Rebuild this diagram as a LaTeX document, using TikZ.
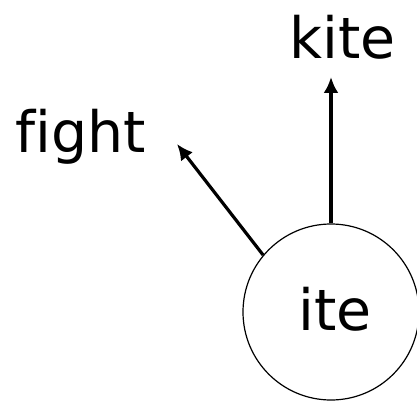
\documentclass[tikz,border=0pt]{standalone}
\usepackage{fontspec}
\setmainfont[Ligatures=NoCommon]{DejaVu Sans}
\usetikzlibrary{arrows.meta}
\begin{document}
\begin{tikzpicture}[x=1pt,y=-1pt,
  word/.style={font=\fontsize{57}{62}\selectfont, inner sep=0pt, anchor=base west},
  ring/.style={circle, draw, line width=1.2pt, minimum size=176pt, inner sep=0pt},
  arr/.style={line width=3.2pt, -{Latex[length=16pt,width=15pt]}}]
\useasboundingbox (0,0) rectangle (417,403);
\node[ring] (c) at (331,312) {};
\node[word, anchor=base] (ite) at (335,330) {ite};
\node[word] (kite) at (289,59) {kite};
\node[word] (fight) at (15,153) {fight};
\coordinate (ftip) at (177,144);
\draw[arr] (c.north) -- ([yshift=-18pt]c.north |- kite.base);
\draw[arr] (c.140) -- (ftip);
\end{tikzpicture}
\end{document}
